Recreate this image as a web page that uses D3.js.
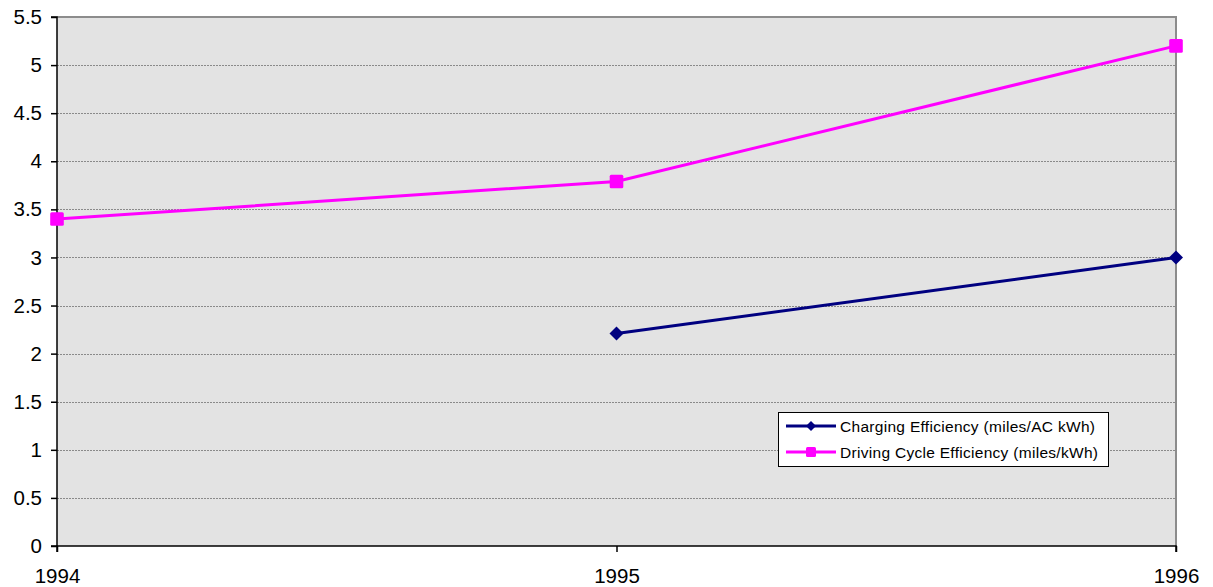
<!DOCTYPE html>
<html><head><meta charset="utf-8">
<script src="https://cdn.jsdelivr.net/npm/d3@7"></script>
<style>body{margin:0;background:#fff}svg{display:block}</style>
</head><body>
<svg id="c" width="1213" height="587"></svg>
<script>
const years = [1994, 1995, 1996];
const charging = [null, 2.21, 3.0];
const driving = [3.4, 3.79, 5.2];
const yTicks = [0, 0.5, 1, 1.5, 2, 2.5, 3, 3.5, 4, 4.5, 5, 5.5];
const seriesNames = ["Charging Efficiency (miles/AC kWh)", "Driving Cycle Efficiency (miles/kWh)"];

const svg = d3.select("#c");
const L = 57, R = 1176, T = 17, B = 546;
const x = d3.scaleLinear().domain([1994, 1996]).range([L, R]);
const y = d3.scaleLinear().domain([0, 5.5]).range([B, T]);
const font = "Liberation Sans, Arial, sans-serif";

svg.append("rect").attr("x", L).attr("y", T).attr("width", R - L).attr("height", B - T).attr("fill", "#e3e3e3");

// gridlines
svg.append("g").selectAll("line").data(yTicks.filter(d => d > 0 && d < 5.5)).join("line")
  .attr("x1", L).attr("x2", R).attr("y1", d => Math.round(y(d)) + 0.5).attr("y2", d => Math.round(y(d)) + 0.5)
  .attr("stroke", "#8a8a8a").attr("stroke-width", 1).attr("stroke-dasharray", "2,1");

// top/right border
svg.append("path").attr("d", `M${L},${T}H${R}V${B}`).attr("fill", "none").attr("stroke", "#8c8c8c").attr("stroke-width", 2);

// y axis
const yAxis = d3.axisLeft(y).tickValues(yTicks).tickSize(6).tickPadding(9).tickFormat(d => String(d));
const gy = svg.append("g").attr("transform", `translate(${L},0)`).call(yAxis);
gy.select(".domain").attr("stroke", "#000").attr("stroke-width", 1.5).attr("d", `M-6,${T}H0V${B}H-6`);
gy.selectAll(".tick line").attr("stroke", "#000").attr("stroke-width", 1.5);
gy.selectAll(".tick text").attr("font-family", font).attr("font-size", 20.5).attr("fill", "#000");

// x axis
const xAxis = d3.axisBottom(x).tickValues(years).tickSize(6).tickPadding(16).tickFormat(d3.format("d"));
const gx = svg.append("g").attr("transform", `translate(0,${B})`).call(xAxis);
gx.select(".domain").attr("stroke", "#000").attr("stroke-width", 1.5).attr("d", `M${L},6V0H${R}V6`);
gx.selectAll(".tick line").attr("stroke", "#000").attr("stroke-width", 1.5);
gx.selectAll(".tick text").attr("font-family", font).attr("font-size", 20.5).attr("fill", "#000");

const line = d3.line().defined(d => d.v != null).x(d => x(d.yr)).y(d => y(d.v));
const mk = arr => years.map((yr, i) => ({yr, v: arr[i]}));
const colors = ["#000080", "#ff00ff"];

function diamond(g, cx, cy, s, c) {
  g.append("path").attr("d", `M${cx},${cy - s}L${cx + s},${cy}L${cx},${cy + s}L${cx - s},${cy}Z`).attr("fill", c);
}
function square(g, cx, cy, s, c) {
  g.append("rect").attr("x", cx - s).attr("y", cy - s).attr("width", 2 * s).attr("height", 2 * s).attr("rx", 1.5).attr("fill", c);
}

const gD = svg.append("g");
gD.append("path").datum(mk(driving)).attr("d", line).attr("fill", "none").attr("stroke", colors[1]).attr("stroke-width", 3);
mk(driving).forEach(d => square(gD, x(d.yr), y(d.v), 6.8, colors[1]));

const gC = svg.append("g");
gC.append("path").datum(mk(charging)).attr("d", line).attr("fill", "none").attr("stroke", colors[0]).attr("stroke-width", 3);
mk(charging).filter(d => d.v != null).forEach(d => diamond(gC, x(d.yr), y(d.v), 7, colors[0]));

// legend
const lg = svg.append("g");
lg.append("rect").attr("x", 778.5).attr("y", 412.5).attr("width", 330).attr("height", 54).attr("fill", "#fff").attr("stroke", "#000").attr("stroke-width", 1);
const rows = [426, 452];
seriesNames.forEach((n, i) => {
  lg.append("line").attr("x1", 786).attr("x2", 836).attr("y1", rows[i]).attr("y2", rows[i]).attr("stroke", colors[i]).attr("stroke-width", 3);
  if (i === 0) diamond(lg, 811, rows[i], 5, colors[i]); else square(lg, 811, rows[i], 5, colors[i]);
  lg.append("text").attr("x", 840).attr("y", rows[i] + 5.5).attr("font-family", font).attr("font-size", 15.5)
    .attr("textLength", i === 0 ? 255 : 258).attr("lengthAdjust", "spacing").text(n);
});
</script>
</body></html>
